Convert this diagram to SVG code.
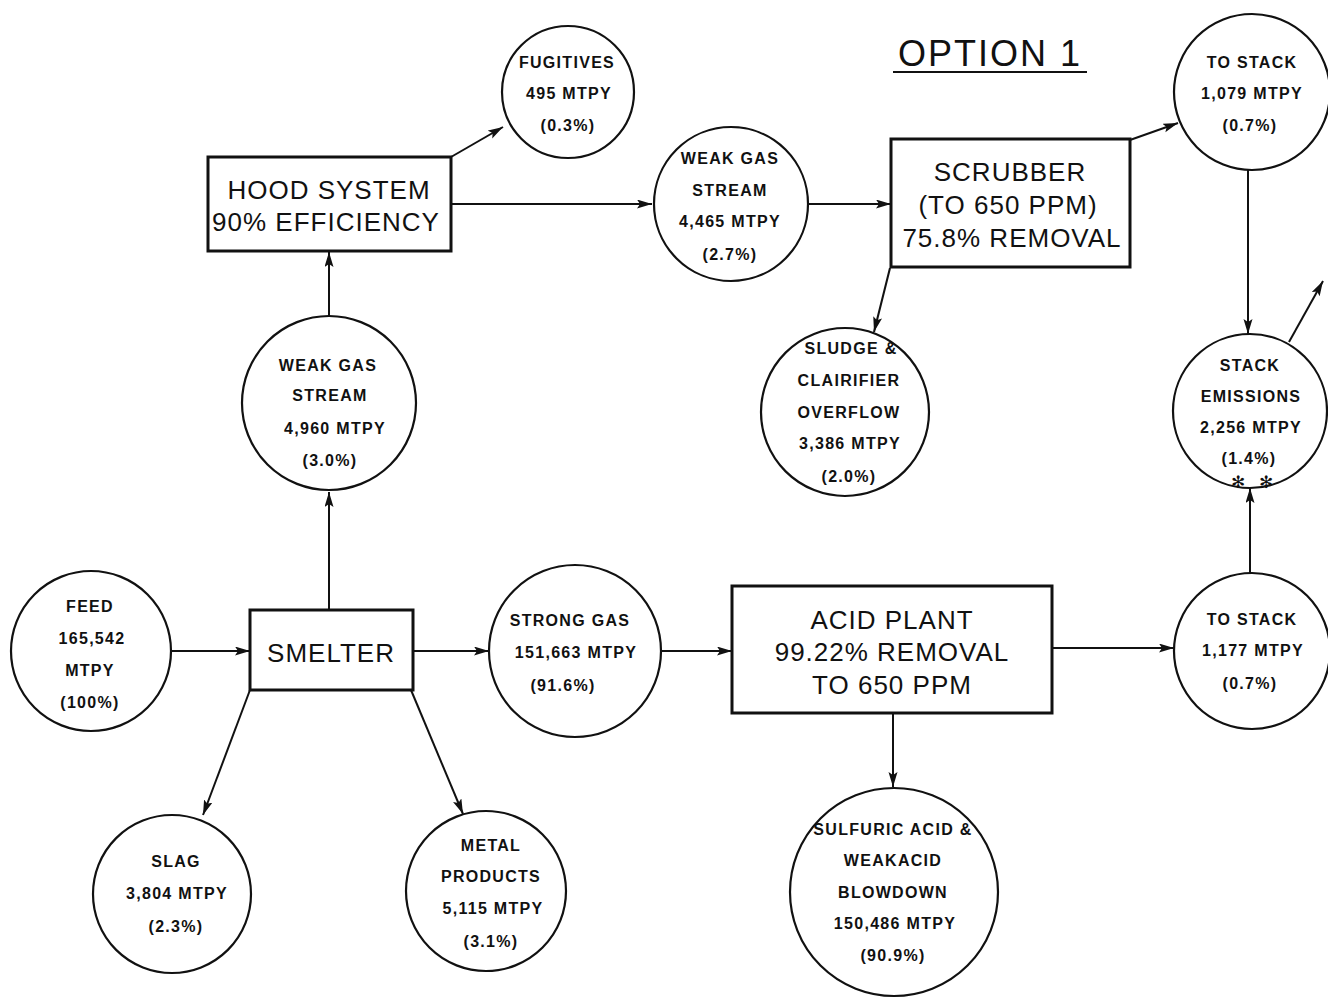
<svg xmlns="http://www.w3.org/2000/svg" width="1328" height="1001" viewBox="0 0 1328 1001">
  <style>
    .stream { fill: #fff; stroke: #111; stroke-width: 2.2; }
    .unit { fill: #fff; stroke: #111; stroke-width: 3; }
    .ct { font-family: "Liberation Sans", Arial, sans-serif; font-weight: bold; font-size: 16px; letter-spacing: 1.3px; fill: #111; text-anchor: middle; dominant-baseline: central; }
    .bt { font-family: "Liberation Sans", Arial, sans-serif; font-size: 26px; letter-spacing: 1px; fill: #111; text-anchor: middle; dominant-baseline: central; }
    .title { font-family: "Liberation Sans", Arial, sans-serif; font-size: 36px; letter-spacing: 2px; fill: #111; text-anchor: middle; }
    .star { font-family: "DejaVu Sans", sans-serif; font-size: 17px; fill: #111; text-anchor: middle; dominant-baseline: central; }
    .flow { stroke: #111; stroke-width: 2; fill: none; marker-end: url(#head); }
  </style>
  <defs>
    <marker id="head" markerUnits="userSpaceOnUse" markerWidth="16" markerHeight="10" refX="15" refY="4.5" orient="auto">
      <path d="M0,0 L15,4.5 L0,9 L3,4.5 z" fill="#111"/>
    </marker>
  </defs>
  <rect width="1328" height="1001" fill="#fff"/>

  <!-- heading -->
  <g id="title">
    <text class="title" x="990" y="66">OPTION 1</text>
    <line x1="893" y1="72" x2="1087" y2="72" stroke="#111" stroke-width="2"/>
  </g>

  <!-- flow lines -->
  <g id="connectors">
    <line class="flow" x1="170" y1="651" x2="250" y2="651"/>
    <line class="flow" x1="329" y1="610" x2="329" y2="492"/>
    <line class="flow" x1="329" y1="316" x2="329" y2="252"/>
    <line class="flow" x1="451" y1="157" x2="503" y2="127"/>
    <line class="flow" x1="451" y1="204" x2="652" y2="204"/>
    <line class="flow" x1="808" y1="204" x2="891" y2="204"/>
    <line class="flow" x1="1130" y1="140" x2="1178" y2="123"/>
    <line class="flow" x1="890" y1="268" x2="874" y2="332"/>
    <line class="flow" x1="1248" y1="170" x2="1248" y2="334"/>
    <line class="flow" x1="1289" y1="342" x2="1323" y2="281"/>
    <line class="flow" x1="413" y1="651" x2="489" y2="651"/>
    <line class="flow" x1="660" y1="651" x2="732" y2="651"/>
    <line class="flow" x1="1052" y1="648" x2="1174" y2="648"/>
    <line class="flow" x1="1250" y1="573" x2="1250" y2="488"/>
    <line class="flow" x1="893" y1="713" x2="893" y2="787"/>
    <line class="flow" x1="250" y1="690" x2="203" y2="815"/>
    <line class="flow" x1="411" y1="690" x2="463" y2="814"/>
  </g>

  <!-- process units -->
  <g id="hood-system">
    <rect class="unit" x="208" y="157" width="243" height="94"/>
    <text class="bt" x="329" y="190">HOOD SYSTEM</text>
    <text class="bt" x="326" y="222">90% EFFICIENCY</text>
  </g>
  <g id="scrubber">
    <rect class="unit" x="891" y="139" width="239" height="128"/>
    <text class="bt" x="1010" y="172">SCRUBBER</text>
    <text class="bt" x="1008" y="205">(TO 650 PPM)</text>
    <text class="bt" x="1012" y="238">75.8% REMOVAL</text>
  </g>
  <g id="smelter">
    <rect class="unit" x="250" y="610" width="163" height="80"/>
    <text class="bt" x="331" y="653">SMELTER</text>
  </g>
  <g id="acid-plant">
    <rect class="unit" x="732" y="586" width="320" height="127"/>
    <text class="bt" x="892" y="620">ACID PLANT</text>
    <text class="bt" x="892" y="652">99.22% REMOVAL</text>
    <text class="bt" x="892" y="685">TO 650 PPM</text>
  </g>

  <!-- material streams -->
  <g id="fugitives">
    <circle class="stream" cx="568" cy="92" r="66"/>
    <text class="ct" x="567" y="62">FUGITIVES</text>
    <text class="ct" x="569" y="93">495 MTPY</text>
    <text class="ct" x="568" y="125">(0.3%)</text>
  </g>
  <g id="weak-gas-scrubbed">
    <circle class="stream" cx="731" cy="204" r="77"/>
    <text class="ct" x="730" y="158">WEAK GAS</text>
    <text class="ct" x="730" y="190">STREAM</text>
    <text class="ct" x="730" y="221">4,465 MTPY</text>
    <text class="ct" x="730" y="254">(2.7%)</text>
  </g>
  <g id="to-stack-scrubber">
    <circle class="stream" cx="1252" cy="92" r="78"/>
    <text class="ct" x="1252" y="62">TO STACK</text>
    <text class="ct" x="1252" y="93">1,079 MTPY</text>
    <text class="ct" x="1250" y="125">(0.7%)</text>
  </g>
  <g id="stack-emissions">
    <circle class="stream" cx="1250" cy="411" r="77"/>
    <text class="ct" x="1250" y="365">STACK</text>
    <text class="ct" x="1251" y="396">EMISSIONS</text>
    <text class="ct" x="1251" y="427">2,256 MTPY</text>
    <text class="ct" x="1249" y="458">(1.4%)</text>
    <text class="star" x="1238" y="482">✻</text>
    <text class="star" x="1266" y="482">✻</text>
  </g>
  <g id="sludge">
    <circle class="stream" cx="845" cy="412" r="84"/>
    <text class="ct" x="851" y="348">SLUDGE &amp;</text>
    <text class="ct" x="849" y="380">CLAIRIFIER</text>
    <text class="ct" x="849" y="412">OVERFLOW</text>
    <text class="ct" x="850" y="443">3,386 MTPY</text>
    <text class="ct" x="849" y="476">(2.0%)</text>
  </g>
  <g id="weak-gas-hood">
    <circle class="stream" cx="329" cy="403" r="87"/>
    <text class="ct" x="328" y="365">WEAK GAS</text>
    <text class="ct" x="330" y="395">STREAM</text>
    <text class="ct" x="335" y="428">4,960 MTPY</text>
    <text class="ct" x="330" y="460">(3.0%)</text>
  </g>
  <g id="feed">
    <circle class="stream" cx="91" cy="651" r="80"/>
    <text class="ct" x="90" y="606">FEED</text>
    <text class="ct" x="92" y="638">165,542</text>
    <text class="ct" x="90" y="670">MTPY</text>
    <text class="ct" x="90" y="702">(100%)</text>
  </g>
  <g id="strong-gas">
    <circle class="stream" cx="575" cy="651" r="86"/>
    <text class="ct" x="570" y="620">STRONG GAS</text>
    <text class="ct" x="576" y="652">151,663 MTPY</text>
    <text class="ct" x="563" y="685">(91.6%)</text>
  </g>
  <g id="to-stack-acid">
    <circle class="stream" cx="1252" cy="651" r="78"/>
    <text class="ct" x="1252" y="619">TO STACK</text>
    <text class="ct" x="1253" y="650">1,177 MTPY</text>
    <text class="ct" x="1250" y="683">(0.7%)</text>
  </g>
  <g id="slag">
    <circle class="stream" cx="172" cy="894" r="79"/>
    <text class="ct" x="176" y="861">SLAG</text>
    <text class="ct" x="177" y="893">3,804 MTPY</text>
    <text class="ct" x="176" y="926">(2.3%)</text>
  </g>
  <g id="metal-products">
    <circle class="stream" cx="486" cy="891" r="80"/>
    <text class="ct" x="491" y="845">METAL</text>
    <text class="ct" x="491" y="876">PRODUCTS</text>
    <text class="ct" x="493" y="908">5,115 MTPY</text>
    <text class="ct" x="491" y="941">(3.1%)</text>
  </g>
  <g id="sulfuric-acid">
    <circle class="stream" cx="894" cy="892" r="104"/>
    <text class="ct" x="893" y="829">SULFURIC ACID &amp;</text>
    <text class="ct" x="893" y="860">WEAKACID</text>
    <text class="ct" x="893" y="892">BLOWDOWN</text>
    <text class="ct" x="895" y="923">150,486 MTPY</text>
    <text class="ct" x="893" y="955">(90.9%)</text>
  </g>
</svg>
